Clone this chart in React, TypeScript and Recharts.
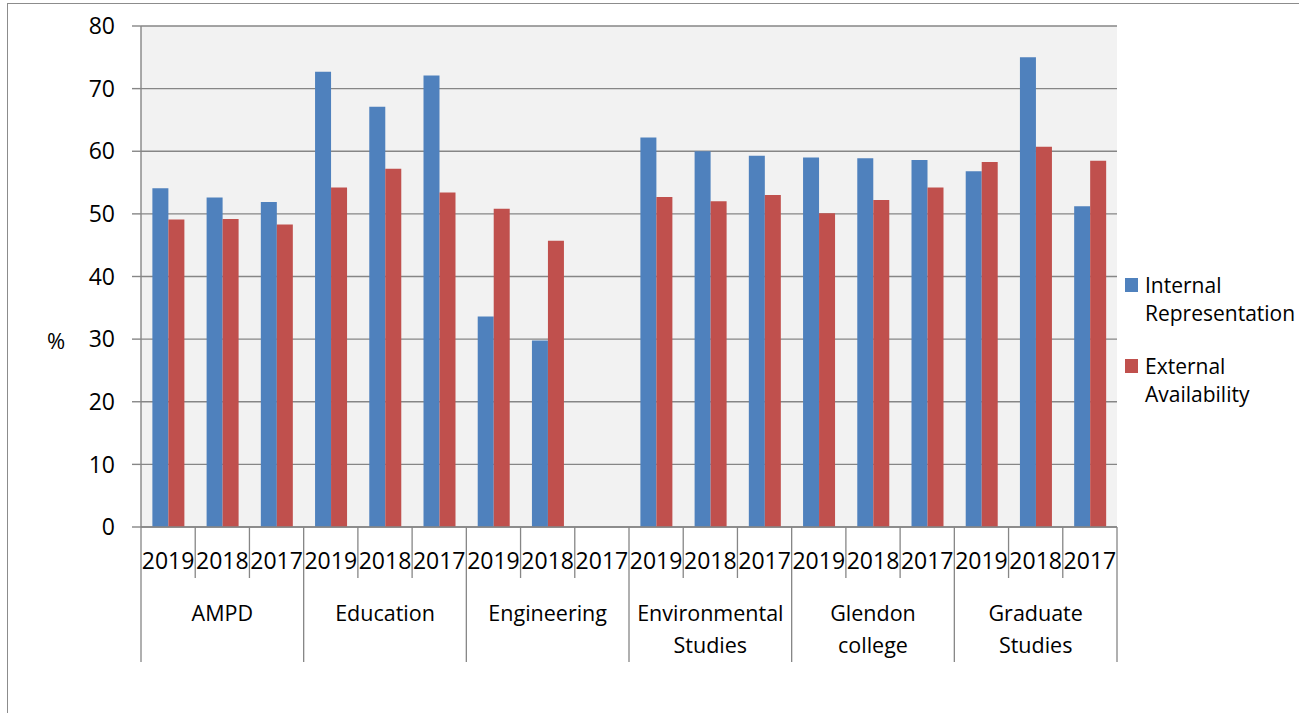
import { Bar, BarChart, CartesianGrid, Legend, XAxis, YAxis } from "recharts";

const groups = [
  "AMPD",
  "Education",
  "Engineering",
  "Environmental Studies",
  "Glendon college",
  "Graduate Studies",
];
const years = ["2019", "2018", "2017"];

// one value per group/year, in the order of the groups above
const internalRepresentation = [
  54.1, 52.6, 51.9, 72.7, 67.1, 72.1, 33.6, 29.8, null, 62.2, 60.0, 59.3, 59.0,
  58.9, 58.6, 56.8, 75.0, 51.2,
];
const externalAvailability = [
  49.1, 49.2, 48.3, 54.2, 57.2, 53.4, 50.8, 45.7, null, 52.7, 52.0, 53.0, 50.1,
  52.2, 54.2, 58.3, 60.7, 58.5,
];
const yTicks = [0, 10, 20, 30, 40, 50, 60, 70, 80];
const seriesOrder = ["internal", "external"];

const data = groups.flatMap((group, g) =>
  years.map((year, y) => ({
    group,
    year,
    internal: internalRepresentation[g * 3 + y],
    external: externalAvailability[g * 3 + y],
  })),
);

const W = 1299;
const H = 713;
const M = { top: 26, right: 182, bottom: 36, left: 81 };
const Y_AXIS_W = 60;
const PLOT_W = W - M.left - Y_AXIS_W - M.right;
const BAND = PLOT_W / data.length;
const AXIS = "#868686";
const FONT = "'Open Sans', sans-serif";

const CategoryTick = (props: any) => {
  const { x, y, payload, index } = props;
  const row = data[index];
  const left = x - BAND / 2;
  const isGroupStart = index % 3 === 0;
  const isLast = index === data.length - 1;
  const lines = row ? row.group.split(" ") : [];

  return (
    <g>
      <line
        x1={left}
        x2={left}
        y1={y}
        y2={y + (isGroupStart ? 135 : 51)}
        stroke={AXIS}
        strokeWidth={1.3}
      />
      {isLast && (
        <line
          x1={x + BAND / 2}
          x2={x + BAND / 2}
          y1={y}
          y2={y + 135}
          stroke={AXIS}
          strokeWidth={1.3}
        />
      )}
      <text
        x={x}
        y={y + 42}
        textAnchor="middle"
        fontSize={23}
        fontFamily={FONT}
        fill="#000"
      >
        {payload.value}
      </text>
      {index % 3 === 1 &&
        lines.map((word: string, i: number) => (
          <text
            key={word}
            x={x}
            y={y + 94 + i * 32}
            textAnchor="middle"
            fontSize={21.5}
            fontFamily={FONT}
            fill="#000"
          >
            {word}
          </text>
        ))}
    </g>
  );
};

const LegendBox = (props: any) => {
  const items = [...(props.payload || [])].sort(
    (a: any, b: any) =>
      seriesOrder.indexOf(a.dataKey) - seriesOrder.indexOf(b.dataKey),
  );
  return (
    <div style={{ fontFamily: FONT, fontSize: 21, color: "#000" }}>
      {items.map((entry: any) => (
        <div
          key={entry.value}
          style={{ display: "flex", alignItems: "flex-start", marginBottom: 25 }}
        >
          <span
            style={{
              width: 13,
              height: 14,
              background: entry.color,
              marginTop: 7,
              marginRight: 7,
              flexShrink: 0,
            }}
          />
          <div style={{ lineHeight: "28px" }}>
            {String(entry.value)
              .split(" ")
              .map((w) => (
                <div key={w}>{w}</div>
              ))}
          </div>
        </div>
      ))}
    </div>
  );
};

export default function App() {
  return (
    <div
      style={{
        position: "absolute",
        left: 0,
        top: 0,
        width: W,
        height: H,
        overflow: "hidden",
        background: "#fff",
      }}
    >
      <div
        style={{
          position: "absolute",
          left: 7,
          top: 3,
          width: W - 8,
          height: H + 20,
          border: "1px solid #8c8c8c",
        }}
      />
      <div style={{ position: "absolute", left: 0, top: 0 }}>
        <BarChart
          width={W}
          height={H}
          data={data}
          margin={M}
          barCategoryGap="21%"
          barGap={0}
        >
          <CartesianGrid
            vertical={false}
            stroke={AXIS}
            strokeWidth={1.4}
            fill="#F2F2F2"
            fillOpacity={1}
          />
          <XAxis
            dataKey="year"
            interval={0}
            height={150}
            tickLine={false}
            tickSize={0}
            tickMargin={0}
            axisLine={{ stroke: AXIS, strokeWidth: 1.4 }}
            tick={<CategoryTick />}
          />
          <YAxis
            width={Y_AXIS_W}
            domain={[0, 80]}
            ticks={yTicks}
            interval={0}
            tickSize={9}
            tickMargin={17}
            axisLine={{ stroke: AXIS, strokeWidth: 1.4 }}
            tickLine={{ stroke: AXIS, strokeWidth: 1.4 }}
            tick={{ fill: "#000", fontSize: 23, fontFamily: FONT }}
            label={{
              content: (p: any) => {
                const vb = p.viewBox;
                return (
                  <text
                    x={vb.x - 25}
                    y={vb.y + vb.height * 0.645}
                    textAnchor="middle"
                    fontSize={22}
                    fontFamily={FONT}
                    fill="#000"
                  >
                    %
                  </text>
                );
              },
            }}
          />
          <Legend
            layout="vertical"
            align="center"
            verticalAlign="middle"
            wrapperStyle={{ left: 1125, top: 271, width: 174 }}
            content={<LegendBox />}
          />
          <Bar
            dataKey="internal"
            name="Internal Representation"
            fill="#4F81BD"
            isAnimationActive={false}
          />
          <Bar
            dataKey="external"
            name="External Availability"
            fill="#C0504D"
            isAnimationActive={false}
          />
        </BarChart>
      </div>
    </div>
  );
}
